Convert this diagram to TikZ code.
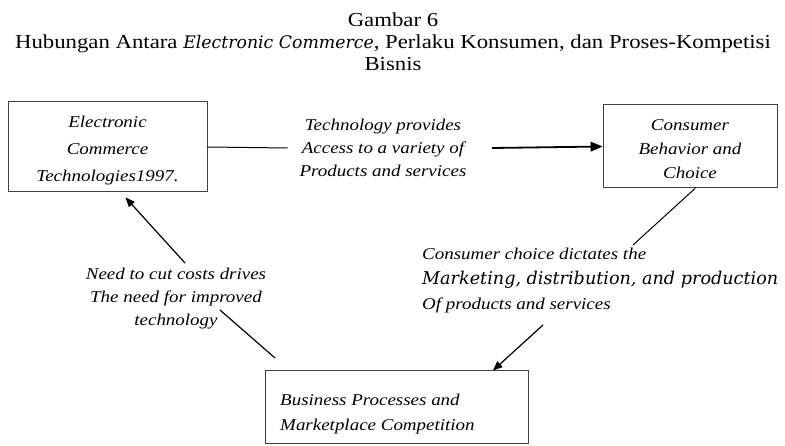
\documentclass[tikz,border=0pt]{standalone}
\usepackage{fontspec}
\setmainfont{Liberation Serif}[FakeStretch=1.15]
\newfontfamily\widefont{DejaVu Serif}
\usetikzlibrary{arrows}

\begin{document}
\begin{tikzpicture}[line cap=round,line join=round,>=triangle 45,x=1pt,y=-1pt,
    box/.style={draw=black!75,line width=1pt,inner sep=0pt},
    lbl/.style={font=\fontsize{16.5}{23}\selectfont\itshape,inner sep=0pt}]
  \useasboundingbox (0,0) rectangle (785,446);
  % judul gambar
  \node[font=\fontsize{19.8}{22}\selectfont,align=center] (judul) at (393,42)
    {Gambar 6\\
     Hubungan Antara {\widefont\itshape\fontsize{17.3}{22}\selectfont Electronic Commerce}, Perlaku Konsumen, dan Proses-Kompetisi\\
     Bisnis};
  % kotak
  \node[box,minimum width=199,minimum height=90] (ecomm) at (107.5,147) {};
  \node[lbl,font=\fontsize{16.5}{27}\selectfont\itshape,align=center] (ecommText) at ([yshift=-4pt]ecomm.center) {Electronic\\ Commerce\\ Technologies1997.};
  \node[box,minimum width=174,minimum height=83] (consumer) at (690,146.5) {};
  \node[lbl,font=\fontsize{16.5}{24}\selectfont\itshape,align=center] (consumerText) at ([yshift=-3pt]consumer.center) {Consumer\\ Behavior and\\ Choice};
  \node[box,minimum width=263,minimum height=72] (bisproc) at (396.5,407) {};
  \node[lbl,font=\fontsize{16.5}{25}\selectfont\itshape,align=left,anchor=west] (bisprocText) at (280,414) {Business Processes and\\ Marketplace Competition};
  % teks penghubung
  \node[lbl,align=center] (techText) at (383,148) {Technology provides\\ Access to a variety of\\ Products and services};
  \node[lbl,font=\fontsize{16.5}{25}\selectfont\itshape,align=left,anchor=west] (choiceText) at (422,281)
    {Consumer choice dictates the\\
     {\widefont\fontsize{17.6}{25}\selectfont Marketing, distribution, and production}\\
     Of products and services};
  \node[lbl,align=center] (costText) at (176,299) {Need to cut costs drives\\ The need for improved\\ technology};
  % titik bebas
  \coordinate (c1) at (633,245);
  \coordinate (c2) at (543,325);
  \coordinate (c3) at (220,310);
  \coordinate (c4) at (275,358);
  \coordinate (c5) at (185,263);
  % garis dan panah
  \draw[line width=1pt] (ecomm.east) -- ([xshift=-12pt]techText.west);
  \draw[->,line width=1.8pt] ([xshift=26pt]techText.east) -- (consumer.west);
  \draw[line width=1pt] ([xshift=5pt]consumer.south) -- (c1);
  \draw[->,line width=1.2pt] (c2) -- ([xshift=96.5pt]bisproc.north);
  \draw[line width=1.2pt] (c4) -- (c3);
  \draw[->,line width=1.2pt] (c5) -- ([xshift=18pt,yshift=-5pt]ecomm.south);
\end{tikzpicture}
\end{document}
